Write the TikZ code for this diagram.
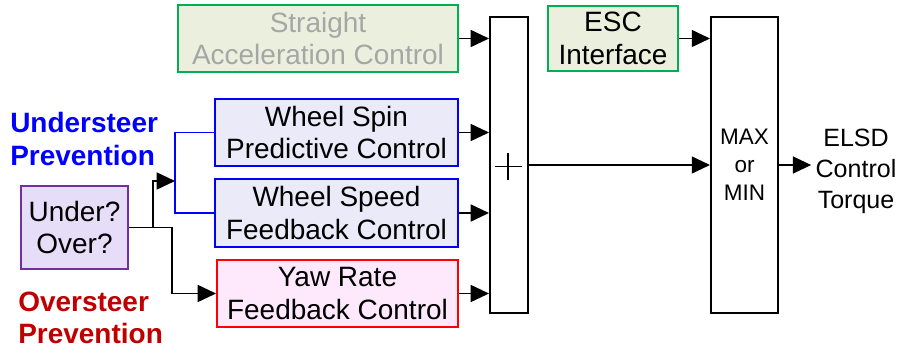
\documentclass[tikz,border=0pt]{standalone}
\usepackage{fontspec}
\setmainfont{Liberation Sans}
\usetikzlibrary{arrows.meta}
\definecolor{accgreen}{RGB}{0,176,80}
\definecolor{accfill}{RGB}{235,240,222}
\definecolor{usfill}{RGB}{234,234,248}
\definecolor{osfill}{RGB}{253,233,251}
\definecolor{uofill}{RGB}{230,222,248}
\definecolor{uoline}{RGB}{112,48,160}
\definecolor{osred}{RGB}{192,0,0}
\definecolor{sagray}{RGB}{166,166,166}
\begin{document}
\begin{tikzpicture}[
  box/.style={draw,line width=1.4pt,inner sep=0pt,align=center,text=black,font=\fontsize{19.9}{23.2}\selectfont},
  arr/.style={line width=1.4pt,-{Triangle[length=13pt,width=12pt]}},
  tag/.style={anchor=west,align=left,inner sep=0pt,font=\bfseries\fontsize{19.9}{22.8}\selectfont}]
\useasboundingbox (0,0) rectangle (22.575,8.825);
\node[box,draw=accgreen,fill=accfill,text=sagray,minimum width=7cm,minimum height=1.675cm] at (7.95,7.8625) (straight) {Straight\\Acceleration Control};
\node[box,draw=blue,fill=usfill,minimum width=6.075cm,minimum height=1.675cm] at (8.4125,5.5125) (spin) {Wheel Spin\\Predictive Control};
\node[box,draw=blue,fill=usfill,minimum width=6.075cm,minimum height=1.7cm] at (8.4125,3.5) (speed) {Wheel Speed\\Feedback Control};
\node[box,draw=red,fill=osfill,minimum width=6.025cm,minimum height=1.675cm] at (8.4375,1.4875) (yaw) {Yaw Rate\\Feedback Control};
\node[box,draw=uoline,fill=uofill,minimum width=2.675cm,minimum height=2.075cm] at (1.8625,3.1375) (under) {Under?\\Over?};
\node[box,minimum width=0.95cm,minimum height=7.4cm] at (12.725,4.7) (sum) {};
\node[box,draw=accgreen,fill=accfill,minimum width=3.25cm,minimum height=1.625cm] at (15.325,7.8625) (esc) {ESC\\Interface};
\node[box,minimum width=1.675cm,minimum height=7.4cm,font=\fontsize{16}{20}\selectfont] at (18.6125,4.7) (max) {MAX\\or\\MIN};
\node[align=center,inner ysep=0pt,inner xsep=3pt,font=\fontsize{17.8}{22}\selectfont] at (21.4,4.55) (elsd) {ELSD\\Control\\Torque};
\node[tag,blue] at (0.25,5.35) (uslabel) {Understeer\\Prevention};
\node[tag,osred] at (0.45,0.875) (oslabel) {Oversteer\\Prevention};
\draw[line width=1.1pt] (12.7,4.6625) +(-0.3375,0) -- +(0.3375,0) +(0,-0.3375) -- +(0,0.3375);
\coordinate (split) at (3.825,3.1375);
\coordinate (usjoin) at (4.375,4.3);
\coordinate (osjoin) at (4.3,3.1375);
\draw[line width=1.1pt,blue] (spin.west) -| (usjoin) |- (speed.west);
\draw[arr] (under.east) -- (split) |- (usjoin);
\draw[arr] (split) -- (osjoin) |- (yaw.west);
\draw[arr] (straight.east) -- (straight.east -| sum.west);
\draw[arr] (spin.east) -- (spin.east -| sum.west);
\draw[arr] (speed.east) -- (speed.east -| sum.west);
\draw[arr] (yaw.east) -- (yaw.east -| sum.west);
\draw[arr] (esc.east) -- (esc.east -| max.west);
\draw[arr] (sum.east) -- (sum.east -| max.west);
\draw[arr] (max.east) -- (max.east -| elsd.west);
\end{tikzpicture}
\end{document}
